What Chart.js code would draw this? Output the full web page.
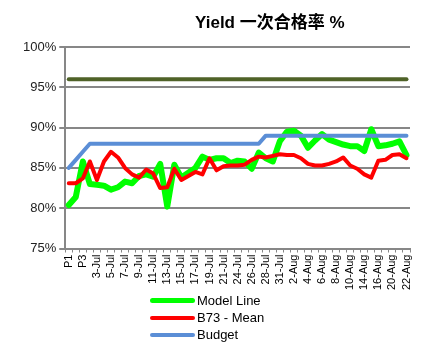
<!DOCTYPE html>
<html>
<head>
<meta charset="utf-8">
<script src="https://cdn.jsdelivr.net/npm/chart.js@4/dist/chart.umd.min.js"></script>
<style>
  body { margin: 0; background: #fff; }
  #wrap { position: relative; width: 426px; height: 344px; }
  #title {
    position: absolute; left: 195px; top: 8px;
    font: bold 17px "Liberation Sans", "Noto Sans CJK SC", sans-serif; color: #000;
  }
  #legend {
    position: absolute; left: 150px; top: 292px;
    font: 13px "Liberation Sans", Arial, sans-serif; color: #000;
  }
  #legend .item { display: flex; align-items: center; height: 17px; }
  #legend .swatch { width: 45px; margin-right: 2px; border-radius: 3px; }
</style>
</head>
<body>
<div id="wrap">
  <canvas id="chart" width="426" height="344"></canvas>
  <div id="title">Yield 一次合格率 %</div>
  <div id="legend"></div>
</div>
<script>
const categories = [
  'P1', 'P2', 'P3', '2-Jul', '3-Jul', '4-Jul', '5-Jul', '6-Jul', '7-Jul', '8-Jul',
  '9-Jul', '10-Jul', '11-Jul', '12-Jul', '13-Jul', '14-Jul', '15-Jul', '16-Jul', '17-Jul', '18-Jul',
  '19-Jul', '20-Jul', '21-Jul', '23-Jul', '24-Jul', '25-Jul', '26-Jul', '27-Jul', '28-Jul', '30-Jul',
  '31-Jul', '1-Aug', '2-Aug', '3-Aug', '4-Aug', '5-Aug', '6-Aug', '7-Aug', '8-Aug', '9-Aug',
  '10-Aug', '13-Aug', '14-Aug', '15-Aug', '16-Aug', '17-Aug', '20-Aug', '21-Aug', '22-Aug'
];

const modelLine = [
  80.4, 81.4, 85.8, 83.0, 82.9, 82.8, 82.3, 82.6, 83.3, 83.1,
  84.0, 84.2, 83.9, 85.5, 80.2, 85.4, 83.8, 84.4, 85.0, 86.4,
  86.0, 86.2, 86.2, 85.6, 85.9, 85.8, 84.9, 86.9, 86.2, 85.8,
  88.3, 89.5, 89.6, 89.0, 87.5, 88.4, 89.2, 88.5, 88.2, 87.9,
  87.7, 87.7, 87.1, 89.8, 87.7, 87.8, 88.0, 88.3, 86.6
];

const b73Mean = [
  83.1, 83.1, 83.7, 85.8, 83.5, 85.8, 87.0, 86.3, 85.0, 84.2,
  83.8, 84.8, 84.3, 82.5, 82.6, 84.9, 83.5, 84.0, 84.5, 84.2,
  86.2, 84.7, 85.2, 85.3, 85.3, 85.4, 86.0, 86.4, 86.3, 86.5,
  86.7, 86.6, 86.6, 86.2, 85.5, 85.3, 85.3, 85.5, 85.8, 86.3,
  85.3, 84.9, 84.2, 83.8, 85.9, 86.0, 86.6, 86.7, 86.2
];

const budget = [
  85, 86, 87, 88, 88, 88, 88, 88, 88, 88,
  88, 88, 88, 88, 88, 88, 88, 88, 88, 88,
  88, 88, 88, 88, 88, 88, 88, 88, 89, 89,
  89, 89, 89, 89, 89, 89, 89, 89, 89, 89,
  89, 89, 89, 89, 89, 89, 89, 89, 89
];

const target = [
  96, 96, 96, 96, 96, 96, 96, 96, 96, 96,
  96, 96, 96, 96, 96, 96, 96, 96, 96, 96,
  96, 96, 96, 96, 96, 96, 96, 96, 96, 96,
  96, 96, 96, 96, 96, 96, 96, 96, 96, 96,
  96, 96, 96, 96, 96, 96, 96, 96, 96
];

const yTicks = [75, 80, 85, 90, 95, 100];

const FONT = '"Liberation Sans", Arial, sans-serif';
const GRID = '#878787';

// builds the stacked legend under the axis from the chart's own legend items
const htmlLegend = {
  id: 'htmlLegend',
  afterUpdate(chart) {
    const box = document.getElementById('legend');
    box.innerHTML = '';
    const items = chart.options.plugins.legend.labels.generateLabels(chart)
      .filter(it => it.text !== 'Target')
      .sort((a, b) => a.datasetIndex - b.datasetIndex);
    items.forEach(it => {
      const ds = chart.data.datasets[it.datasetIndex];
      const row = document.createElement('div');
      row.className = 'item';
      const sw = document.createElement('span');
      sw.className = 'swatch';
      sw.style.height = (ds.legendWidth || 4) + 'px';
      sw.style.background = ds.borderColor;
      const tx = document.createElement('span');
      tx.textContent = it.text;
      row.appendChild(sw);
      row.appendChild(tx);
      box.appendChild(row);
    });
  }
};

const ctx = document.getElementById('chart').getContext('2d');
new Chart(ctx, {
  type: 'line',
  data: {
    labels: categories,
    datasets: [
      { label: 'Model Line', data: modelLine, borderColor: '#00FF00', borderWidth: 6, legendWidth: 5, order: 3 },
      { label: 'B73 - Mean', data: b73Mean, borderColor: '#FF0000', borderWidth: 4, legendWidth: 4, order: 1 },
      { label: 'Budget', data: budget, borderColor: '#5B8ED6', borderWidth: 4, legendWidth: 4, order: 2 },
      { label: 'Target', data: target, borderColor: '#4F6228', borderWidth: 4, order: 4 }
    ]
  },
  options: {
    responsive: false,
    animation: false,
    layout: { padding: { top: 47, left: 20, right: 16, bottom: 52 } },
    elements: {
      point: { radius: 0 },
      line: { tension: 0, borderCapStyle: 'round', borderJoinStyle: 'round', fill: false }
    },
    plugins: {
      legend: { display: false },
      title: { display: false },
      tooltip: { enabled: false }
    },
    scales: {
      x: {
        offset: true,
        grid: { offset: true, drawOnChartArea: false, drawTicks: true, tickLength: 4, color: GRID, lineWidth: 1 },
        border: { color: GRID, width: 2 },
        ticks: {
          autoSkip: false,
          maxRotation: 90,
          minRotation: 90,
          padding: 2,
          color: '#000',
          font: { family: FONT, size: 11 },
          callback: (v, i) => (i % 2 === 0 ? categories[i] : '')
        }
      },
      y: {
        min: yTicks[0],
        max: yTicks[yTicks.length - 1],
        afterBuildTicks: axis => { axis.ticks = yTicks.map(v => ({ value: v })); },
        grid: { color: GRID, lineWidth: 2, tickLength: 6 },
        border: { color: GRID, width: 2 },
        ticks: {
          padding: 3,
          color: '#222',
          font: { family: FONT, size: 13 },
          callback: v => v + '%'
        }
      }
    }
  },
  plugins: [htmlLegend]
});
</script>
</body>
</html>
